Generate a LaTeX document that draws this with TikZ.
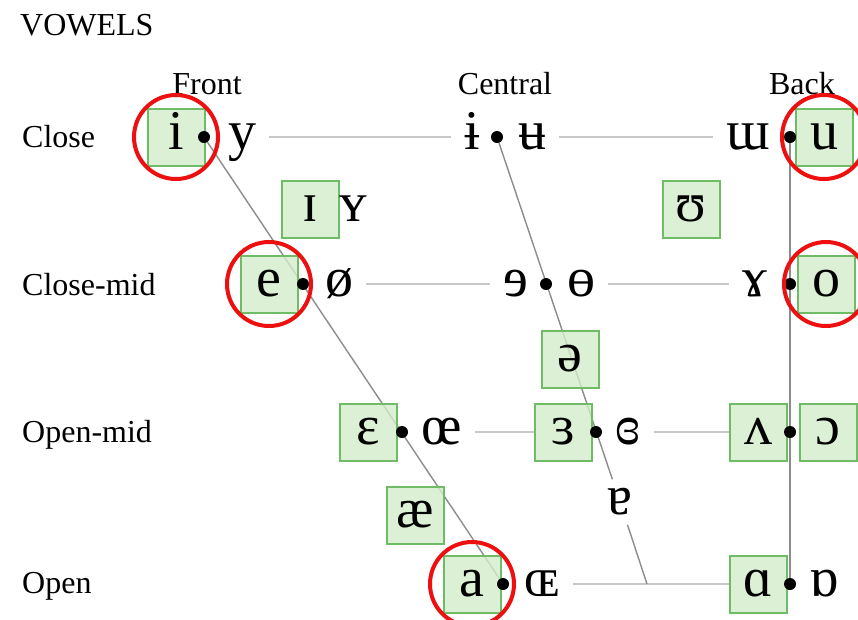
\documentclass[tikz,border=0pt]{standalone}
\usepackage{fontspec}
\setmainfont{Liberation Serif}
\usepackage{xcolor}
\usetikzlibrary{positioning,backgrounds}
\definecolor{boxgreen}{RGB}{210,236,202}
\definecolor{edgegreen}{RGB}{112,188,102}
\definecolor{ringred}{RGB}{236,16,16}
\definecolor{rulegray}{RGB}{200,200,200}
\definecolor{slantgray}{RGB}{140,140,140}

\begin{document}
\begin{tikzpicture}[x=1pt,y=-1pt,
    vowel/.style={font=\fontsize{56}{56}\selectfont, text height=31pt, text depth=6pt, inner xsep=13pt, inner ysep=4pt},
    boxed/.style={vowel, draw=edgegreen, line width=2pt, fill=boxgreen, fill opacity=0.8, text opacity=1, minimum width=57pt, minimum height=57pt, inner sep=0pt},
    dot/.style={circle, fill=black, inner sep=0pt, minimum size=12pt},
    ring/.style={draw=ringred, line width=4pt},
    hrule/.style={draw=rulegray, line width=2.5pt},
    slant/.style={draw=slantgray, line width=1.4pt},
    lbl/.style={font=\fontsize{32}{32}\selectfont, inner sep=0pt}]
    \useasboundingbox (0,0) rectangle (858,619);

    % headings
    \node[lbl, anchor=base west] (vowels) at (20,35) {VOWELS};
    \node[lbl, anchor=base] (front) at (207,94) {Front};
    \node[lbl, anchor=base] (central) at (505,94) {Central};
    \node[lbl, anchor=base] (back) at (802,94) {Back};
    \node[lbl, anchor=base west] (close) at (22,147) {Close};
    \node[lbl, anchor=base west] (closemid) at (22,295) {Close-mid};
    \node[lbl, anchor=base west] (openmid) at (22,442) {Open-mid};
    \node[lbl, anchor=base west] (open) at (22,593) {Open};

    % close
    \node[boxed] (vi) at (176,137) {i};
    \node[vowel] (vy) at (242,137) {y};
    \node[vowel] (vbari) at (472,137) {ɨ};
    \node[vowel] (vbaru) at (532,137) {ʉ};
    \node[vowel] (vturnm) at (748,137) {ɯ};
    \node[boxed] (vu) at (824,137) {u};
    \node[boxed] (vsmi) at (310,209) {ɪ};
    \node[vowel] (vsmy) at (353,209) {ʏ};
    \node[boxed] (vupsi) at (691,209) {ʊ};

    % close-mid
    \node[boxed] (ve) at (269,284) {e};
    \node[vowel] (voslash) at (339,284) {ø};
    \node[vowel] (vreve) at (516,284) {ɘ};
    \node[vowel] (vbaro) at (581,284) {ɵ};
    \node[vowel] (vrams) at (755,284) {ɤ};
    \node[boxed] (vo) at (826,284) {o};
    \node[boxed] (vschwa) at (570,359) {ə};

    % open-mid
    \node[boxed] (veps) at (368,432) {ɛ};
    \node[vowel] (voe) at (442,432) {œ};
    \node[boxed] (vreveps) at (563,432) {ɜ};
    \node[vowel] (vcreveps) at (628,432) {ɞ};
    \node[boxed] (vwedge) at (758,432) {ʌ};
    \node[boxed] (vopeno) at (828,432) {ɔ};
    \node[boxed] (vae) at (415,515) {æ};
    \node[vowel] (vturna) at (620,502) {ɐ};

    % open
    \node[boxed] (va) at (472,584) {a};
    \node[vowel] (vOE) at (542,584) {ɶ};
    \node[boxed] (vscripta) at (758,584) {ɑ};
    \node[vowel] (vturnsa) at (824,584) {ɒ};

    % dots
    \node[dot] (fd1) at (204,137) {};
    \node[dot] (cd1) at (497,137) {};
    \node[dot] (bd1) at (790,137) {};
    \node[dot] (fd2) at (303,284) {};
    \node[dot] (cd2) at (546,284) {};
    \node[dot] (bd2) at (790,284) {};
    \node[dot] (fd3) at (402,432) {};
    \node[dot] (cd3) at (596,432) {};
    \node[dot] (bd3) at (790,432) {};
    \node[dot] (fd4) at (503,584) {};
    \node[dot] (bd4) at (790,584) {};
    \coordinate (cbot) at (647,584);

    \begin{pgfonlayer}{background}
    \draw[hrule] (vy) -- (vbari);
    \draw[hrule] (vbaru) -- (vturnm);
    \draw[hrule] (voslash) -- (vreve);
    \draw[hrule] (vbaro) -- (vrams);
    \draw[hrule] (voe) -- (vreveps);
    \draw[hrule] (vcreveps) -- (vwedge);
    \draw[hrule] (vOE) -- (vscripta);
    \draw[slant] (fd1) -- (fd4);
    \draw[slant] (cd1) -- (vturna);
    \draw[slant] (vturna) -- (cbot);
    \draw[slant] (bd1) -- (bd4);
    \end{pgfonlayer}

    % highlights
    \draw[ring] (vi) circle[radius=42pt];
    \draw[ring] (ve) circle[radius=42pt];
    \draw[ring] (vu) circle[radius=42pt];
    \draw[ring] (vo) circle[radius=42pt];
    \draw[ring] (va) circle[radius=42pt];
\end{tikzpicture}
\end{document}
